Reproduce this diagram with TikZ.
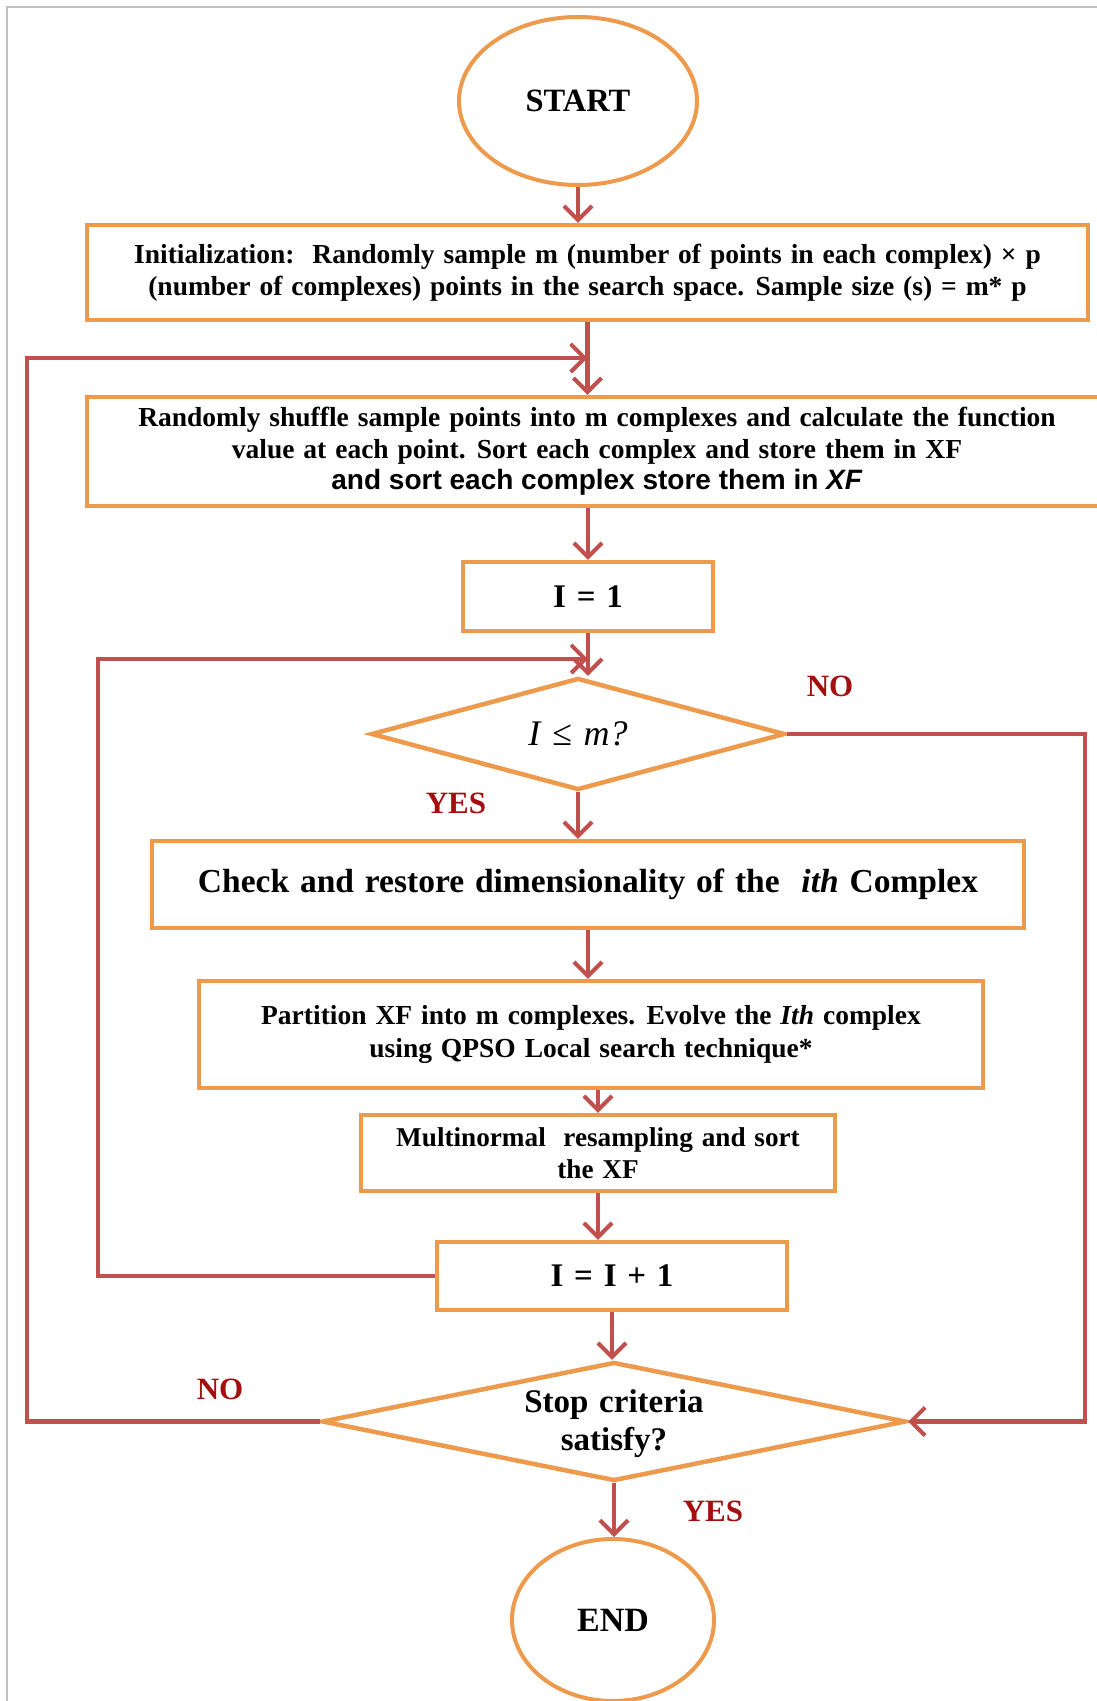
\documentclass[tikz,border=0pt]{standalone}
\usepackage{fontspec}
\setmainfont{Liberation Serif}[WordSpace=1.3]
\newfontfamily\arialf{Liberation Sans}
\usetikzlibrary{arrows.meta,shapes.geometric,calc}
\definecolor{boxor}{HTML}{EE9A4D}
\definecolor{arrred}{HTML}{C0504D}
\definecolor{lblred}{HTML}{A50E0E}
\tikzset{
  boxst/.style={draw=boxor,line width=4.5pt,fill=white,rectangle,align=center,inner sep=0pt,font=\bfseries},
  ellst/.style={draw=boxor,line width=4pt,fill=white,ellipse,inner sep=0pt},
  diast/.style={draw=boxor,line width=4.5pt,fill=white,diamond,inner sep=0pt,align=center},
  arr/.style={draw=arrred,line width=4.2pt,-{Straight Barb[length=14pt,width=28pt,line width=4pt]}},
  lbl/.style={text=lblred,font=\bfseries\fontsize{31}{34}\selectfont}
}
\begin{document}
\begin{tikzpicture}[x=1pt,y=-1pt]
\useasboundingbox (0,0) rectangle (1097,1701);
\fill[white] (0,0) rectangle (1097,1701);
\draw[gray!50,line width=2pt] (1097,7) -- (7,7) -- (7,1701);
% nodes
\node[ellst,minimum width=238,minimum height=168,font=\bfseries\fontsize{32.5}{36}\selectfont] (start) at (578,101) {START};
\node[boxst,minimum width=1001,minimum height=95,font=\bfseries\fontsize{27.5}{32.5}\selectfont] (init) at (587.5,272.5)
 {Initialization:\ \ Randomly sample m (number of points in each complex) × p\\(number of complexes) points in the search space. Sample size (s) = m* p};
\node[boxst,minimum width=1020,minimum height=109,font=\bfseries\fontsize{27.5}{31.5}\selectfont] (shuf) at (597,451.5)
 {Randomly shuffle sample points into m complexes and calculate the function\\value at each point. Sort each complex and store them in XF\\{\arialf\bfseries\fontsize{28}{31.5}\selectfont and sort each complex store them in \textit{XF}}};
\node[boxst,minimum width=250,minimum height=69,font=\bfseries\fontsize{33}{36}\selectfont] (i1) at (588,596.5) {I = 1};
\node[diast,minimum width=414,minimum height=112] (d1) at (578,734) {};
\node[font=\itshape\fontsize{36}{40}\selectfont] (d1t) at (578,734) {I ≤ m?};
\node[boxst,minimum width=872,minimum height=87,font=\bfseries\fontsize{33.5}{38}\selectfont] (chk) at (588,884.5)
 {Check and restore dimensionality of the \ \textit{ith} Complex};
\node[boxst,minimum width=784,minimum height=107,font=\bfseries\fontsize{27.5}{32.5}\selectfont] (part) at (591,1034.5)
 {Partition XF into m complexes. Evolve the \textit{Ith} complex\\using QPSO Local search technique*};
\node[boxst,minimum width=474,minimum height=76,font=\bfseries\fontsize{27.2}{31.5}\selectfont] (mult) at (598,1153)
 {Multinormal\ \ resampling and sort\\the XF};
\node[boxst,minimum width=350,minimum height=68,font=\bfseries\fontsize{33}{36}\selectfont] (inc) at (612,1276) {I = I + 1};
\node[diast,minimum width=584,minimum height=119] (d2) at (614,1421.5) {};
\node[align=center,font=\bfseries\fontsize{33}{38}\selectfont] (d2t) at (614,1424) {Stop criteria\\satisfy?};
\node[ellst,minimum width=202,minimum height=162,font=\bfseries\fontsize{34}{38}\selectfont] (end) at (613,1620) {END};
% labels
\node[lbl] (no1) at (830,686) {NO};
\node[lbl] (yes1) at (456,803) {YES};
\node[lbl] (no2) at (220,1389) {NO};
\node[lbl] (yes2) at (713,1511) {YES};
% coordinates for loops
\coordinate (l1) at (27,358);
\coordinate (l2) at (98,659);
\coordinate (r1) at (1085,734);
% connectors
\draw[arr] (start.south) -- (start.south |- init.north);
\draw[arr] (init.south) -- (init.south |- shuf.north);
\draw[arr] (shuf.south -| i1.north) -- (i1.north);
\draw[arr] (i1.south) -- (i1.south |- d1.north);
\draw[arr] (d1.south) -- (d1.south |- chk.north);
\draw[arr] (chk.south) -- (chk.south |- part.north);
\draw[arr] (part.south -| mult.north) -- (mult.north);
\draw[arr] (mult.south) -- (mult.south |- inc.north);
\draw[arr] (inc.south) -- (inc.south |- d2.north);
\draw[arr] (d2.south) -- (d2.south |- end.north);
\draw[arr] (d2.west) -- (d2.west -| l1) -- (l1) -- (l1 -| init.south);
\draw[arr] (inc.west) -- (inc.west -| l2) -- (l2) -- (l2 -| i1.south);
\draw[arr] (d1.east) -- (r1) -- (r1 |- d2.east) -- (d2.east);
\end{tikzpicture}
\end{document}
